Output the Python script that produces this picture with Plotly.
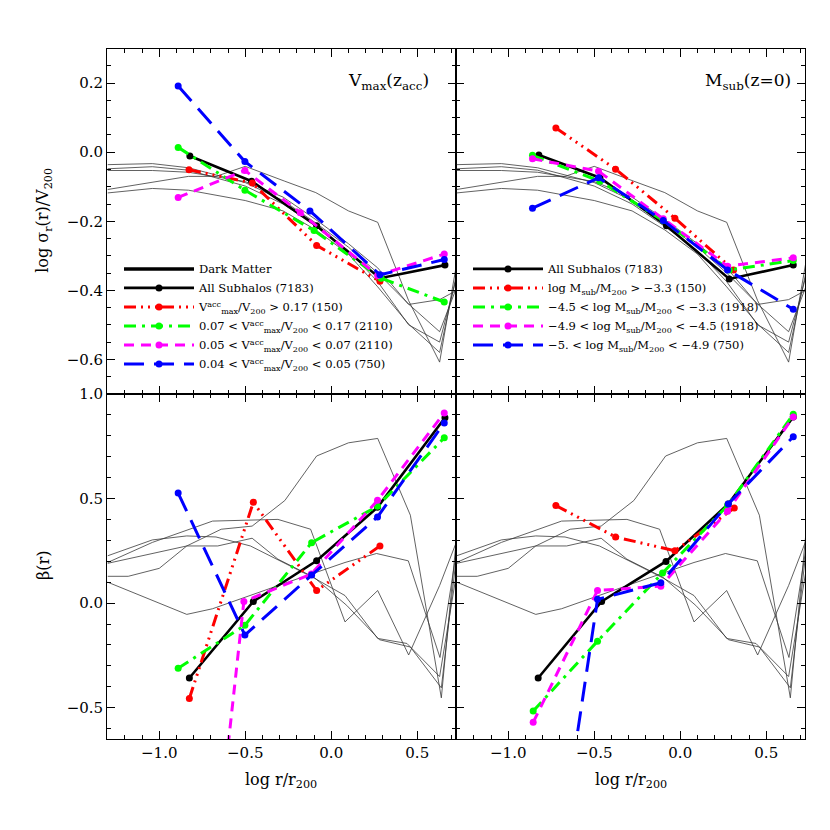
import plotly.graph_objects as go
from plotly.subplots import make_subplots

# ---------------- data ----------------
# thin lines: individual dark-matter host halos (same in both columns)
dm_sig_x = [
    [-1.30, -1.04, -0.83, -0.50, -0.28, -0.09, 0.10, 0.27, 0.45, 0.63, 0.73],
    [-1.30, -1.04, -0.83, -0.50, -0.28, -0.09, 0.10, 0.27, 0.45, 0.63, 0.73],
    [-1.30, -1.04, -0.83, -0.50, -0.28, -0.09, 0.10, 0.27, 0.45, 0.63, 0.73],
    [-1.30, -0.83, -0.67, -0.50, -0.27, -0.09, 0.10, 0.27, 0.45, 0.63, 0.73],
    [-1.30, -1.04, -0.83, -0.50, -0.28, -0.09, 0.10, 0.27, 0.45, 0.63, 0.73],
]
dm_sig_y = [
    [-0.036, -0.033, -0.045, -0.088, -0.140, -0.205, -0.275, -0.350, -0.440, -0.520, -0.390],
    [-0.048, -0.042, -0.052, -0.098, -0.150, -0.215, -0.285, -0.375, -0.500, -0.550, -0.360],
    [-0.053, -0.053, -0.058, -0.085, -0.130, -0.195, -0.265, -0.335, -0.441, -0.427, -0.400],
    [-0.108, -0.070, -0.070, -0.041, -0.084, -0.117, -0.170, -0.203, -0.430, -0.608, -0.320],
    [-0.118, -0.105, -0.110, -0.140, -0.170, -0.225, -0.295, -0.390, -0.498, -0.580, -0.350],
]
dm_beta_x = [
    [-1.30, -1.18, -1.00, -0.84, -0.64, -0.46, -0.27, -0.085, 0.10, 0.27, 0.46, 0.64, 0.73],
    [-1.30, -1.04, -0.69, -0.46, -0.31, -0.12, 0.08, 0.27, 0.45, 0.63, 0.73],
    [-1.30, -1.04, -0.84, -0.67, -0.47, -0.28, -0.10, 0.08, 0.27, 0.44, 0.63, 0.73],
    [-1.30, -1.02, -0.84, -0.66, -0.46, -0.31, -0.10, 0.09, 0.28, 0.46, 0.64, 0.73],
    [-1.30, -0.84, -0.69, -0.46, -0.28, -0.115, 0.08, 0.263, 0.448, 0.632, 0.74],
]
dm_beta_y = [
    [0.128, 0.128, 0.166, 0.273, 0.353, 0.368, 0.490, 0.703, 0.766, 0.787, 0.420, -0.453, 0.330],
    [0.194, 0.290, 0.392, 0.395, 0.400, 0.353, -0.090, 0.060, -0.248, 0.084, 0.297],
    [0.226, 0.302, 0.321, 0.316, 0.273, 0.194, 0.120, 0.036, -0.169, -0.193, -0.351, 0.150],
    [0.190, 0.242, 0.273, 0.273, 0.310, 0.210, 0.123, -0.011, -0.175, -0.210, -0.405, 0.240],
    [0.100, -0.054, -0.027, 0.041, 0.092, 0.139, 0.194, 0.237, 0.202, -0.260, 0.310],
]

# left column: subhalos split by Vmax at accretion
vmax_x = [
    [-0.822, -0.463, -0.085, 0.283, 0.661],
    [-0.827, -0.459, -0.085, 0.283],
    [-0.890, -0.502, -0.100, 0.290, 0.657],
    [-0.890, -0.502, -0.180, 0.270, 0.657],
    [-0.890, -0.502, -0.124, 0.283, 0.657],
]
vmax_sig = [
    [-0.011, -0.084, -0.213, -0.365, -0.327],
    [-0.051, -0.089, -0.270, -0.374],
    [0.014, -0.110, -0.227, -0.365, -0.434],
    [-0.131, -0.053, -0.175, -0.357, -0.295],
    [0.192, -0.027, -0.170, -0.355, -0.311],
]
vmax_bx = [
    [-0.825, -0.453, -0.085, 0.269, 0.661],
    [-0.825, -0.453, -0.085, 0.283],
    [-0.890, -0.502, -0.114, 0.269, 0.657],
    [-0.890, -0.508, -0.116, 0.269, 0.657],
    [-0.890, -0.502, -0.114, 0.269, 0.657],
]
vmax_beta = [
    [-0.358, 0.008, 0.202, 0.458, 0.886],
    [-0.456, 0.482, 0.060, 0.273],
    [-0.311, -0.106, 0.289, 0.463, 0.790],
    [-2.86, 0.008, 0.139, 0.491, 0.909],
    [0.526, -0.153, 0.134, 0.412, 0.861],
]
vmax_names = [
    "All Subhalos (7183)",
    "V<sup>acc</sup><sub>max</sub>/V<sub>200</sub> &gt; 0.17 (150)",
    "0.07 &lt; V<sup>acc</sup><sub>max</sub>/V<sub>200</sub> &lt; 0.17 (2110)",
    "0.05 &lt; V<sup>acc</sup><sub>max</sub>/V<sub>200</sub> &lt; 0.07 (2110)",
    "0.04 &lt; V<sup>acc</sup><sub>max</sub>/V<sub>200</sub> &lt; 0.05 (750)",
]

# right column: subhalos split by present-day mass
msub_x = [
    [-0.822, -0.467, -0.080, 0.285, 0.657],
    [-0.723, -0.376, -0.031, 0.310],
    [-0.859, -0.467, -0.099, 0.285, 0.657],
    [-0.859, -0.475, -0.099, 0.275, 0.657],
    [-0.859, -0.475, -0.099, 0.275, 0.657],
]
msub_sig = [
    [-0.008, -0.074, -0.213, -0.367, -0.327],
    [0.070, -0.049, -0.191, -0.341],
    [-0.009, -0.084, -0.198, -0.341, -0.314],
    [-0.019, -0.055, -0.193, -0.330, -0.306],
    [-0.162, -0.074, -0.198, -0.341, -0.455],
]
msub_bx = [
    [-0.826, -0.457, -0.083, 0.279, 0.657],
    [-0.723, -0.376, -0.031, 0.314],
    [-0.855, -0.481, -0.103, 0.275, 0.657],
    [-0.855, -0.481, -0.113, 0.275, 0.657],
    [-0.855, -0.481, -0.113, 0.279, 0.657],
]
msub_beta = [
    [-0.358, 0.008, 0.199, 0.474, 0.890],
    [0.466, 0.316, 0.250, 0.454],
    [-0.516, -0.182, 0.144, 0.466, 0.902],
    [-0.570, 0.060, 0.081, 0.439, 0.890],
    [-2.03, 0.018, 0.097, 0.474, 0.795],
]
msub_names = [
    "All Subhalos (7183)",
    "log M<sub>sub</sub>/M<sub>200</sub> &gt; \u22123.3 (150)",
    "\u22124.5 &lt; log M<sub>sub</sub>/M<sub>200</sub> &lt; \u22123.3 (1918)",
    "\u22124.9 &lt; log M<sub>sub</sub>/M<sub>200</sub> &lt; \u22124.5 (1918)",
    "\u22125. &lt; log M<sub>sub</sub>/M<sub>200</sub> &lt; \u22124.9 (750)",
]

colors = ["black", "#ff0000", "#00ff00", "#ff00ff", "#0000ff"]
dashes = ["solid", "12px,5px,2px,5px,2px,5px,2px,5px", "12px,6px,3px,6px", "10px,7px", "20px,10px"]

FONT = "DejaVu Serif"
W = 830.0

fig = make_subplots(rows=2, cols=2, horizontal_spacing=0, vertical_spacing=0)

for col in (1, 2):
    for xs, ys in zip(dm_sig_x, dm_sig_y):
        fig.add_trace(go.Scatter(x=xs, y=ys, mode="lines", line=dict(color="#3a3a3a", width=0.8),
                                 showlegend=False, hoverinfo="skip"), row=1, col=col)
    for xs, ys in zip(dm_beta_x, dm_beta_y):
        fig.add_trace(go.Scatter(x=xs, y=ys, mode="lines", line=dict(color="#3a3a3a", width=0.8),
                                 showlegend=False, hoverinfo="skip"), row=2, col=col)

# legend-only key for the thin dark-matter lines
fig.add_trace(go.Scatter(x=[None], y=[None], mode="lines", name="Dark Matter",
                         line=dict(color="black", width=3.5), legend="legend"), row=1, col=1)

panels = [
    (1, vmax_x, vmax_sig, vmax_bx, vmax_beta, vmax_names, "legend"),
    (2, msub_x, msub_sig, msub_bx, msub_beta, msub_names, "legend2"),
]
for col, sx, sy, bx, by, names, leg in panels:
    for i in range(5):
        style = dict(color=colors[i], width=3 if i else 2.6, dash=dashes[i])
        fig.add_trace(go.Scatter(x=sx[i], y=sy[i], mode="lines+markers", name=names[i],
                                 line=style, marker=dict(size=7, color=colors[i]),
                                 legend=leg), row=1, col=col)
        fig.add_trace(go.Scatter(x=bx[i], y=by[i], mode="lines+markers", showlegend=False,
                                 line=style, marker=dict(size=7, color=colors[i])),
                      row=2, col=col)

# ---------------- axes ----------------
xdom = [[99.3 / W, 448.3 / W], [448.3 / W, 797.3 / W]]
ydom = [[1 - 381 / W, 1 - 32 / W], [1 - 730 / W, 1 - 381 / W]]

common = dict(showline=True, linecolor="black", linewidth=1.3, mirror="allticks",
              ticks="inside", ticklen=8, tickwidth=1.2, tickcolor="black",
              showgrid=False, zeroline=False,
              tickfont=dict(family=FONT, size=15, color="black"))

for r in (1, 2):
    for c in (1, 2):
        fig.update_xaxes(common, range=[-1.302, 0.727], tick0=0, dtick=0.5, tickformat=".1f",
                         minor=dict(ticks="inside", ticklen=4, dtick=0.1, tick0=0, tickcolor="black"),
                         showticklabels=(r == 2), ticklabelstandoff=0,
                         domain=xdom[c - 1], row=r, col=c)
        if r == 1:
            fig.update_yaxes(common, range=[-0.7, 0.3], tick0=0, dtick=0.2, tickformat=".1f",
                             minor=dict(ticks="inside", ticklen=4, dtick=0.05, tick0=0, tickcolor="black"),
                             showticklabels=(c == 1), domain=ydom[0], row=r, col=c)
        else:
            fig.update_yaxes(common, range=[-0.65, 1.0], tick0=0, dtick=0.5, tickformat=".1f",
                             minor=dict(ticks="inside", ticklen=4, dtick=0.1, tick0=0, tickcolor="black"),
                             showticklabels=(c == 1), domain=ydom[1], row=r, col=c)

ann = dict(showarrow=False, xref="paper", yref="paper", font=dict(family=FONT, size=16, color="black"))
fig.update_layout(annotations=[
    dict(ann, text="V<sub>max</sub>(z<sub>acc</sub>)", x=423 / W, y=1 - 65 / W, xanchor="right", yanchor="middle",
         font=dict(family=FONT, size=17, color="black")),
    dict(ann, text="M<sub>sub</sub>(z=0)", x=785 / W, y=1 - 65 / W, xanchor="right", yanchor="middle",
         font=dict(family=FONT, size=17, color="black")),
    dict(ann, text="log \u03c3<sub>r</sub>(r)/V<sub>200</sub>", x=36 / W, y=1 - 206 / W, textangle=-90,
         xanchor="center", yanchor="middle"),
    dict(ann, text="\u03b2(r)", x=36 / W, y=1 - 555 / W, textangle=-90, xanchor="center", yanchor="middle"),
    dict(ann, text="log r/r<sub>200</sub>", x=273 / W, y=1 - 772 / W, xanchor="center", yanchor="middle"),
    dict(ann, text="log r/r<sub>200</sub>", x=623 / W, y=1 - 772 / W, xanchor="center", yanchor="middle"),
])

legend_common = dict(xanchor="left", yanchor="top", bgcolor="rgba(0,0,0,0)", borderwidth=0,
                     font=dict(family=FONT, size=11.5, color="black"), itemwidth=70,
                     tracegroupgap=0, traceorder="normal")
fig.update_layout(
    width=830, height=830,
    margin=dict(l=0, r=0, t=0, b=0),
    paper_bgcolor="white", plot_bgcolor="white",
    legend=dict(legend_common, x=111 / W, y=1 - 240 / W),
    legend2=dict(legend_common, x=460 / W, y=1 - 240 / W),
)

fig.write_html("out.html")
